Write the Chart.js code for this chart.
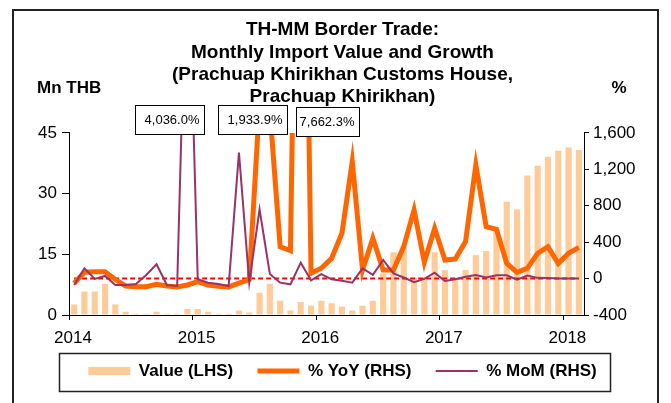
<!DOCTYPE html>
<html>
<head>
<meta charset="utf-8">
<script src="https://cdn.jsdelivr.net/npm/chart.js@4"></script>
<style>
    body { margin: 0; background: #fff; }
    #wrap { width: 671px; height: 403px; }
</style>
</head>
<body>
<div id="wrap"><canvas id="tradeChart" width="671" height="403"></canvas></div>
<script>
// months, Jan 2014 - Feb 2018
const months = [
    'Jan-14', 'Feb-14', 'Mar-14', 'Apr-14', 'May-14', 'Jun-14', 'Jul-14', 'Aug-14', 'Sep-14', 'Oct-14', 'Nov-14', 'Dec-14',
    'Jan-15', 'Feb-15', 'Mar-15', 'Apr-15', 'May-15', 'Jun-15', 'Jul-15', 'Aug-15', 'Sep-15', 'Oct-15', 'Nov-15', 'Dec-15',
    'Jan-16', 'Feb-16', 'Mar-16', 'Apr-16', 'May-16', 'Jun-16', 'Jul-16', 'Aug-16', 'Sep-16', 'Oct-16', 'Nov-16', 'Dec-16',
    'Jan-17', 'Feb-17', 'Mar-17', 'Apr-17', 'May-17', 'Jun-17', 'Jul-17', 'Aug-17', 'Sep-17', 'Oct-17', 'Nov-17', 'Dec-17',
    'Jan-18', 'Feb-18'
];

// import value, Mn THB (LHS)
const importValue = [
    2.6, 5.8, 5.8, 7.7, 2.6, 0.8, 0.3, 0.3, 0.8, 0.3, 0.3, 1.5,
    1.5, 0.8, 0.3, 0.3, 1.1, 0.6, 5.5, 7.7, 3.5, 1.1, 3.2, 2.3,
    3.5, 2.9, 2.1, 1.1, 2.3, 3.5, 10.3, 15.5, 16.9, 9.2, 9.3, 15.5,
    11.1, 9.2, 11.1, 14.8, 15.8, 21.0, 28.0, 26.1, 34.5, 36.9, 39.1, 40.6,
    41.4, 40.8
];

// % YoY (RHS)
const yoy = [
    -52, 69, 76, 76, -10, -81, -89, -89, -63, -81, -92, -70,
    -34, -72, -85, -92, -50, -10, 1933.9, 1850, 350, 307, 7662.3, 58,
    113, 223, 498, 1285, 95, 443, 95, 95, 351, 754, 179, 553,
    204, 215, 406, 1248, 570, 542, 168, 69, 113, 278, 351, 165,
    278, 342
];

// % MoM (RHS)
const mom = [
    -70, 113, -4, 29, -70, -70, -59, 40, 157, -70, -81, 4036.0,
    -8, -45, -59, -81, 1383, -45, 761, 50, -45, -63, 175, -20,
    50, -8, -25, -45, 113, 40, 204, 58, 12, -40, -3, 65,
    -26, -8, 21, 40, 12, 36, 36, -12, 34, 8, 6, 0,
    0, 0
];

const leftTicks = { min: 0, max: 45, step: 15 };
const rightTicks = { min: -400, max: 1600, step: 400 };

const titleLines = [
    'TH-MM Border Trade:',
    'Monthly Import Value and Growth',
    '(Prachuap Khirikhan Customs House,',
    'Prachuap Khirikhan)'
];

// callout boxes for the off-scale spikes
const callouts = [
    { series: 'mom', index: 11, dx: -52, dy: -28, w: 69 },
    { series: 'yoy', index: 18, dx: -42, dy: -28, w: 69 },
    { series: 'yoy', index: 22, dx: -5, dy: -26, w: 63 }
];

window.onload = function () {
    const FONT = "'Liberation Sans', Arial, sans-serif";
    Chart.defaults.font.family = FONT;
    Chart.defaults.color = '#000';

    const toPoints = function (arr) {
        return arr.map(function (v, i) { return { x: i + 0.5, y: v }; });
    };

    // Jan of each year sits on a month boundary
    const yearTicks = [];
    months.forEach(function (m, i) {
        if (m.indexOf('Jan') === 0) yearTicks.push({ value: i, label: '20' + m.slice(4) });
    });

    const seriesData = { yoy: yoy, mom: mom };

    const extras = {
        id: 'extras',
        beforeDraw: function (chart) {
            const ctx = chart.ctx;
            ctx.save();
            ctx.fillStyle = '#fff';
            ctx.fillRect(0, 0, chart.width, chart.height);
            ctx.strokeStyle = '#222';
            ctx.lineWidth = 2;
            ctx.strokeRect(13, 10, 645, 400);
            ctx.restore();
        },
        afterDatasetDraw: function (chart, args) {
            // red dashed zero line on the RHS, drawn over the bars
            if (args.index !== 0) return;
            const ctx = chart.ctx;
            const x = chart.scales.x;
            const y0 = chart.scales.y1.getPixelForValue(0);
            ctx.save();
            ctx.strokeStyle = '#FF0000';
            ctx.lineWidth = 2;
            ctx.setLineDash([5, 3]);
            ctx.beginPath();
            ctx.moveTo(x.getPixelForValue(0.5), y0);
            ctx.lineTo(x.getPixelForValue(months.length - 0.5), y0);
            ctx.stroke();
            ctx.restore();
        },
        afterDraw: function (chart) {
            const ctx = chart.ctx;
            const area = chart.chartArea;
            ctx.save();

            // axis unit labels
            ctx.font = 'bold 17px ' + FONT;
            ctx.fillStyle = '#000';
            ctx.textBaseline = 'middle';
            ctx.textAlign = 'left';
            ctx.fillText('Mn THB', 37, 88);
            ctx.textAlign = 'center';
            ctx.fillText('%', 619, 88);

            // callouts
            ctx.font = '13px ' + FONT;
            ctx.textAlign = 'right';
            callouts.forEach(function (c) {
                const px = chart.scales.x.getPixelForValue(c.index + 0.5);
                const left = Math.round(px + c.dx) + 0.5;
                const top = Math.round(area.top + c.dy) + 0.5;
                ctx.fillStyle = '#fff';
                ctx.fillRect(left, top, c.w, 29);
                ctx.strokeStyle = '#000';
                ctx.lineWidth = 1;
                ctx.strokeRect(left, top, c.w, 29);
                const v = seriesData[c.series][c.index];
                const txt = v.toLocaleString('en-US', { minimumFractionDigits: 1, maximumFractionDigits: 1 }) + '%';
                ctx.fillStyle = '#000';
                ctx.fillText(txt, left + c.w - 5, top + 15);
            });

            // legend frame
            const lg = chart.legend;
            ctx.strokeStyle = '#222';
            ctx.lineWidth = 1.5;
            ctx.strokeRect(59.5, Math.round(lg.top) + 0.5, 551, 38);
            ctx.restore();
        }
    };

    const ctx = document.getElementById('tradeChart').getContext('2d');
    const tradeChart = new Chart(ctx, {
        data: {
            datasets: [{
                type: 'bar',
                label: 'Value (LHS)',
                data: toPoints(importValue),
                yAxisID: 'y',
                backgroundColor: '#FFCC99',
                borderWidth: 0,
                barPercentage: 0.6,
                categoryPercentage: 1,
                order: 3
            }, {
                type: 'line',
                label: '% YoY (RHS)',
                data: toPoints(yoy),
                yAxisID: 'y1',
                borderColor: '#FF6600',
                backgroundColor: '#FF6600',
                borderWidth: 5,
                pointRadius: 0,
                tension: 0,
                clip: 0,
                order: 2
            }, {
                type: 'line',
                label: '% MoM (RHS)',
                data: toPoints(mom),
                yAxisID: 'y1',
                borderColor: '#993366',
                backgroundColor: '#993366',
                borderWidth: 2,
                pointRadius: 0,
                tension: 0,
                clip: 0,
                order: 1
            }]
        },
        options: {
            responsive: false,
            animation: false,
            devicePixelRatio: 1,
            layout: { padding: { left: 14, right: 0, top: 0, bottom: 13.5 } },
            plugins: {
                title: {
                    display: true,
                    text: titleLines,
                    color: '#000',
                    font: { size: 19, weight: 'bold', lineHeight: 1.17 },
                    padding: { top: 19, bottom: 25 }
                },
                legend: {
                    position: 'bottom',
                    labels: {
                        usePointStyle: true,
                        pointStyleWidth: 42,
                        boxHeight: 8,
                        padding: 10,
                        color: '#000',
                        font: { size: 17, weight: 'bold' },
                        sort: function (a, b) { return a.datasetIndex - b.datasetIndex; },
                        generateLabels: function (chart) {
                            const items = Chart.defaults.plugins.legend.labels.generateLabels(chart);
                            const last = chart.data.datasets.length - 1;
                            return items.map(function (item) {
                                const ds = chart.data.datasets[item.datasetIndex];
                                // trailing blanks widen the gap between entries
                                item.text = item.datasetIndex < last ? ds.label + '   ' : ds.label;
                                item.pointStyle = ds.type === 'bar' ? 'rect' : 'line';
                                item.fillStyle = ds.backgroundColor;
                                item.strokeStyle = ds.borderColor || ds.backgroundColor;
                                item.lineWidth = ds.borderWidth;
                                return item;
                            });
                        }
                    }
                },
                tooltip: { enabled: false }
            },
            scales: {
                x: {
                    type: 'linear',
                    position: 'bottom',
                    offset: false,
                    min: 0,
                    max: months.length,
                    afterBuildTicks: function (scale) {
                        scale.ticks = yearTicks.map(function (t) { return { value: t.value }; });
                    },
                    afterFit: function (scale) { scale.height = 37.5; },
                    ticks: {
                        autoSkip: false,
                        maxRotation: 0,
                        padding: 8,
                        labelOffset: 4,
                        color: '#000',
                        font: { size: 17 },
                        callback: function (value) {
                            const t = yearTicks.find(function (y) { return y.value === value; });
                            return t ? t.label : '';
                        }
                    },
                    grid: { offset: false, drawOnChartArea: false, tickLength: 5, color: '#000' },
                    border: { display: true, color: '#000', width: 1 }
                },
                y: {
                    position: 'left',
                    min: leftTicks.min,
                    max: leftTicks.max,
                    afterFit: function (scale) { scale.width = 55; },
                    ticks: { stepSize: leftTicks.step, padding: 5, color: '#000', font: { size: 17 } },
                    grid: { drawOnChartArea: false, tickLength: 7, color: '#000' },
                    border: { display: true, color: '#000', width: 1 }
                },
                y1: {
                    position: 'right',
                    min: rightTicks.min,
                    max: rightTicks.max,
                    afterFit: function (scale) { scale.width = 87; },
                    ticks: { stepSize: rightTicks.step, padding: 4, color: '#000', font: { size: 17 } },
                    grid: { drawOnChartArea: false, tickLength: 5, color: '#000' },
                    border: { display: true, color: '#000', width: 1 }
                }
            }
        },
        plugins: [extras]
    });
};
</script>
</body>
</html>
